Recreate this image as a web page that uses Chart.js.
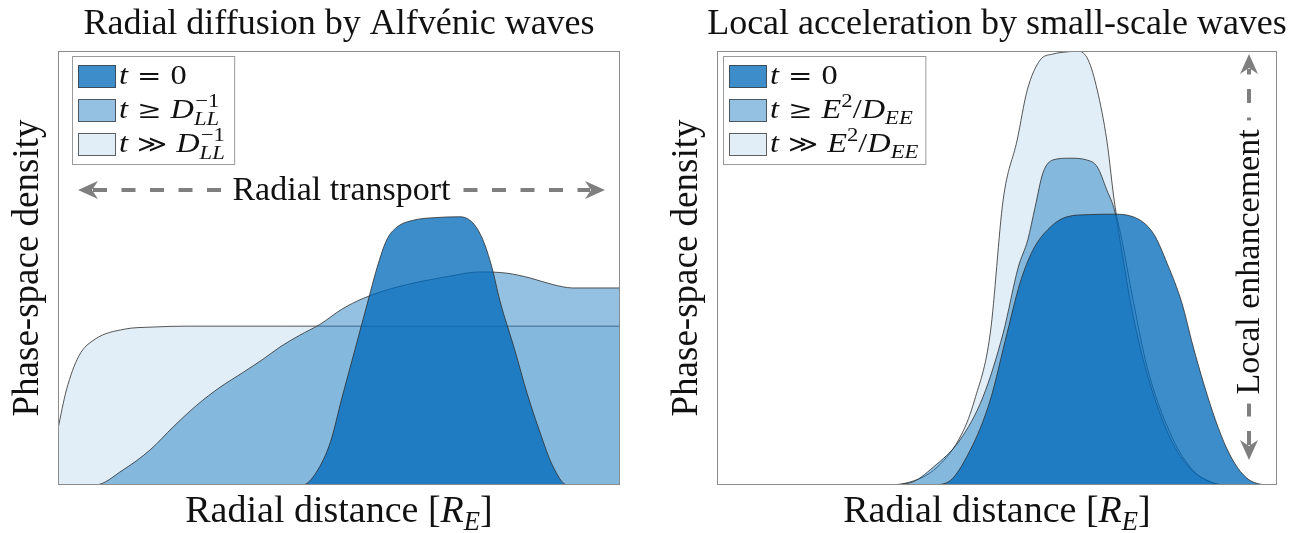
<!DOCTYPE html>
<html>
<head>
<meta charset="utf-8">
<title>Phase-space density profiles</title>
<script src="https://cdn.jsdelivr.net/npm/chart.js@4.4.1/dist/chart.umd.min.js"></script>
<style>
  body { margin: 0; background: #fff; }
  .panel { position: absolute; top: 0; }
</style>
</head>
<body>
<canvas id="diffusion" class="panel" width="650" height="533" style="left:0"></canvas>
<canvas id="acceleration" class="panel" width="651" height="533" style="left:650px"></canvas>
<script>
// radial distance and phase-space density, both in arbitrary units 0..100

// radial diffusion: initial peak, partly diffused, fully diffused
const diffInitX = [0, 43.5, 46, 48.5, 50.5, 52.8, 55.2, 56.8, 58.5, 60.3, 63.2, 67, 71.5, 73.8, 75.6, 77.2, 78.6, 81.3, 83.5, 85.8, 88, 90.6, 100];
const diffInitY = [0, 0, 3, 10, 20, 31, 42.6, 50.2, 56.5, 59.4, 61, 61.6, 61.8, 60.4, 56.5, 50.2, 42.6, 31, 21, 12, 4.5, 0, 0];
const diffMidX = [0, 6.6, 11.6, 16.4, 20.5, 24.7, 28.8, 33, 36.5, 39.5, 43, 46.6, 50.5, 54.3, 60.3, 69.2, 75.1, 79.9, 84, 88, 91.6, 100];
const diffMidY = [0, 0, 3.5, 8.1, 13.4, 18.4, 22.5, 26, 29, 31.8, 34.5, 37, 40.5, 43, 45.6, 48, 49.1, 48.8, 47.7, 46.2, 45.4, 45.4];
const diffLateX = [0, 1.5, 3.7, 6.6, 11.8, 17, 22.9, 40, 100];
const diffLateY = [13, 21.9, 29.7, 33.6, 35.9, 36.4, 36.6, 36.6, 36.6];

// local acceleration: initial peak, enhanced, strongly enhanced
const accInitX = [0, 38, 41, 45.2, 48.8, 51.8, 54.1, 56.4, 59.5, 62.5, 66.5, 70.7, 74.3, 77.9, 80.4, 83, 85, 87, 89, 91, 93, 95, 97, 99, 100];
const accInitY = [0, 0, 0.5, 8, 19.6, 35, 46.5, 54.1, 59.4, 61.8, 62.3, 62.4, 61.8, 58, 51, 42, 32, 23, 15, 8.5, 3.9, 1.2, 0.2, 0, 0];
const accMidX = [0, 30, 34.5, 38.6, 43.4, 47.5, 51.1, 53.8, 55.5, 56.8, 58.2, 60, 63, 66, 67.9, 69.6, 71.1, 72.4, 74, 76.5, 80.5, 84.2, 88, 91, 100];
const accMidY = [0, 0, 0.5, 4.1, 10.4, 20.3, 35, 50.2, 56.5, 64, 71.9, 74.9, 75.3, 74.9, 73.3, 68, 62.7, 53, 41, 27, 12, 4.2, 0.8, 0, 0];
const accLateX = [0, 29.5, 33.9, 39.3, 43.8, 46, 48.8, 51.1, 53.6, 55.4, 57.7, 60, 62.5, 64.5, 66.3, 67.9, 69.6, 71.1, 72.3, 74.3, 76.8, 80.9, 84.5, 87.5, 91, 100];
const accLateY = [0, 0, 0.5, 4.1, 12, 19.6, 35, 65.7, 79.5, 91, 97.9, 99.3, 99.8, 100, 97.9, 91, 79.5, 64, 56.5, 42.6, 27.2, 12, 4.1, 1, 0, 0];

// text runs: [text, kind] with kind rm | it | rel | sub | sup, or [sup, 'stack', sub]
const diffLegend = [
  [['t', 'it'], ['=', 'rel'], ['0', 'rm']],
  [['t', 'it'], ['\u2265', 'rel'], ['D', 'it'], ['\u22121', 'stack', 'LL']],
  [['t', 'it'], ['\u226B', 'rel'], ['D', 'it'], ['\u22121', 'stack', 'LL']]
];
const accLegend = [
  [['t', 'it'], ['=', 'rel'], ['0', 'rm']],
  [['t', 'it'], ['\u2265', 'rel'], ['E', 'it'], ['2', 'sup'], ['/', 'rm'], ['D', 'it'], ['EE', 'sub']],
  [['t', 'it'], ['\u226B', 'rel'], ['E', 'it'], ['2', 'sup'], ['/', 'rm'], ['D', 'it'], ['EE', 'sub']]
];
const xLabel = [['Radial distance [', 'rm'], ['R', 'it'], ['E', 'sub'], [']', 'rm']];
const yLabel = 'Phase-space density';

const serif = "'Liberation Serif', 'DejaVu Serif', serif";
const relFont = "'DejaVu Serif', serif";
const fills = ['rgba(0,105,186,0.76)', 'rgba(32,125,195,0.48)', 'rgba(198,222,240,0.5)'];
const edge = 'rgba(45,45,45,0.8)';
const frameGray = '#8c8c8c';
const arrowGray = '#7f7f7f';

function font(size, italic) {
  return (italic ? 'italic ' : '') + size + 'px ' + serif;
}

function setRunFont(ctx, kind, size) {
  if (kind === 'rel') { ctx.font = size * 0.9 + 'px ' + relFont; return; }
  const small = kind === 'sub' || kind === 'sup';
  ctx.font = font(small ? size * 0.7 : size, kind === 'it' || kind === 'sub');
}

function runWidth(ctx, r, size) {
  const [t, kind, t2] = r;
  if (kind === 'stack') {
    ctx.font = font(size * 0.7, false);
    const w1 = ctx.measureText(t).width;
    ctx.font = font(size * 0.7, true);
    return Math.max(w1, ctx.measureText(t2).width) + 2;
  }
  setRunFont(ctx, kind, size);
  const w = ctx.measureText(t).width;
  return kind === 'rel' ? w + size * 0.56 : w;
}

function richWidth(ctx, runs, size, sx = 1) {
  return sx * runs.reduce((w, r) => w + runWidth(ctx, r, size), 0);
}

// x = left edge, y = baseline, sx = horizontal stretch
function drawRich(ctx, runs, x, y, size, sx = 1) {
  ctx.save();
  ctx.translate(x, y);
  ctx.scale(sx, 1);
  let px = 0;
  for (const r of runs) {
    const [t, kind, t2] = r;
    const w = runWidth(ctx, r, size);
    if (kind === 'stack') {
      ctx.font = font(size * 0.7, false);
      ctx.fillText(t, px + 1, -size * 0.42);
      ctx.font = font(size * 0.7, true);
      ctx.fillText(t2, px, size * 0.26);
    } else {
      setRunFont(ctx, kind, size);
      const dy = kind === 'sub' ? size * 0.22 : kind === 'sup' ? -size * 0.4 : 0;
      ctx.fillText(t, kind === 'rel' ? px + size * 0.28 : px, dy);
    }
    px += w;
  }
  ctx.restore();
}

function arrowHead(ctx, tx, ty, dx, dy) {
  const len = 20, half = 9;
  const bx = tx - dx * len, by = ty - dy * len;
  const nx = tx - dx * len * 0.7, ny = ty - dy * len * 0.7;
  ctx.beginPath();
  ctx.moveTo(tx, ty);
  ctx.lineTo(bx - dy * half, by + dx * half);
  ctx.lineTo(nx, ny);
  ctx.lineTo(bx + dy * half, by - dx * half);
  ctx.closePath();
  ctx.fill();
}

// two-headed dashed arrow with a label on a white patch, shifted by `shift` along the arrow
function labelledArrow(ctx, x1, y1, x2, y2, text, size, shift) {
  const L = Math.hypot(x2 - x1, y2 - y1), dx = (x2 - x1) / L, dy = (y2 - y1) / L;
  ctx.strokeStyle = arrowGray;
  ctx.fillStyle = arrowGray;
  ctx.lineWidth = 4;
  ctx.setLineDash([14, 14.5]);
  ctx.beginPath();
  ctx.moveTo(x1 + dx * 15, y1 + dy * 15);
  ctx.lineTo(x2 - dx * 15, y2 - dy * 15);
  ctx.stroke();
  ctx.setLineDash([]);
  arrowHead(ctx, x1, y1, -dx, -dy);
  arrowHead(ctx, x2, y2, dx, dy);

  ctx.save();
  ctx.translate((x1 + x2) / 2 + dx * shift, (y1 + y2) / 2 + dy * shift);
  ctx.rotate(Math.atan2(dy, dx));
  ctx.font = font(size, false);
  const w = ctx.measureText(text).width;
  ctx.fillStyle = '#fff';
  ctx.fillRect(-w / 2 - 9, -size * 0.6, w + 18, size * 1.2);
  ctx.fillStyle = '#111';
  ctx.textAlign = 'center';
  ctx.textBaseline = 'middle';
  ctx.fillText(text, 0, 1);
  ctx.restore();
}

function makeDecor(cfg) {
  return {
    id: 'decor',
    afterDatasetsDraw(chart) {
      const { ctx, chartArea: a } = chart;
      const cx = (a.left + a.right) / 2;
      ctx.save();

      ctx.strokeStyle = frameGray;
      ctx.lineWidth = 1;
      ctx.strokeRect(a.left + 0.5, a.top + 0.5, a.right - a.left - 1, a.bottom - a.top - 1);

      // legend, math text drawn a little wider
      const ls = 27, stretch = 1.2;
      const textW = Math.max(...cfg.legend.map(r => richWidth(ctx, r, ls, stretch)));
      const lx = cfg.legendX, ly = a.top + 5;
      const lw = 6 + 38 + 3 + textW + 7;
      ctx.fillStyle = '#fff';
      ctx.fillRect(lx, ly, lw, 108);
      ctx.strokeStyle = '#9a9a9a';
      ctx.strokeRect(lx + 0.5, ly + 0.5, lw, 108);
      cfg.legend.forEach((runs, i) => {
        const py = ly + 9 + i * 34;
        ctx.fillStyle = fills[i];
        ctx.fillRect(lx + 6, py, 38, 23);
        ctx.strokeStyle = 'rgba(60,60,60,0.8)';
        ctx.strokeRect(lx + 6.5, py + 0.5, 37, 22);
        ctx.fillStyle = '#111';
        drawRich(ctx, runs, lx + 6 + 38 + 3, py + 19, ls, stretch);
      });

      // title and axis labels
      ctx.fillStyle = '#111';
      ctx.font = font(36, false);
      ctx.textAlign = 'center';
      ctx.fillText(cfg.title, cx, 34);
      ctx.textAlign = 'left';
      const xs = 38;
      drawRich(ctx, xLabel, cx - richWidth(ctx, xLabel, xs) / 2, 522, xs);
      ctx.save();
      ctx.translate(a.left - 30, (a.top + a.bottom) / 2);
      ctx.rotate(-Math.PI / 2);
      ctx.textAlign = 'center';
      ctx.textBaseline = 'middle';
      ctx.font = font(37, false);
      ctx.fillStyle = '#111';
      ctx.fillText(yLabel, 0, 0);
      ctx.restore();

      const [x1, y1, x2, y2] = cfg.arrow;
      labelledArrow(ctx, x1, y1, x2, y2, cfg.arrowText, 34, cfg.arrowShift);
      ctx.restore();
    }
  };
}

function series(xs, ys) {
  return xs.map((x, i) => ({ x, y: ys[i] }));
}

function panel(id, pad, sets, cfg) {
  new Chart(document.getElementById(id), {
    type: 'line',
    data: {
      datasets: sets.map(([xs, ys], i) => ({
        data: series(xs, ys),
        backgroundColor: fills[i],
        borderColor: edge,
        borderWidth: 1,
        pointRadius: 0,
        fill: 'origin',
        cubicInterpolationMode: 'monotone'
      }))
    },
    options: {
      responsive: false,
      animation: false,
      devicePixelRatio: 1,
      layout: { padding: pad },
      scales: {
        x: { type: 'linear', display: false, min: 0, max: 100 },
        y: { display: false, min: 0, max: 100 }
      },
      plugins: { legend: { display: false }, tooltip: { enabled: false } }
    },
    plugins: [makeDecor(cfg)]
  });
}

panel('diffusion', { left: 58, top: 51, right: 30, bottom: 48 },
  [[diffInitX, diffInitY], [diffMidX, diffMidY], [diffLateX, diffLateY]],
  {
    title: 'Radial diffusion by Alfv\u00e9nic waves',
    legend: diffLegend,
    legendX: 72,
    arrow: [78, 190, 605, 190],
    arrowText: 'Radial transport',
    arrowShift: 0
  });

panel('acceleration', { left: 67, top: 51, right: 24, bottom: 48 },
  [[accInitX, accInitY], [accMidX, accMidY], [accLateX, accLateY]],
  {
    title: 'Local acceleration by small-scale waves',
    legend: accLegend,
    legendX: 73,
    arrow: [599, 460, 599, 54],
    arrowText: 'Local enhancement',
    arrowShift: -5
  });
</script>
</body>
</html>
